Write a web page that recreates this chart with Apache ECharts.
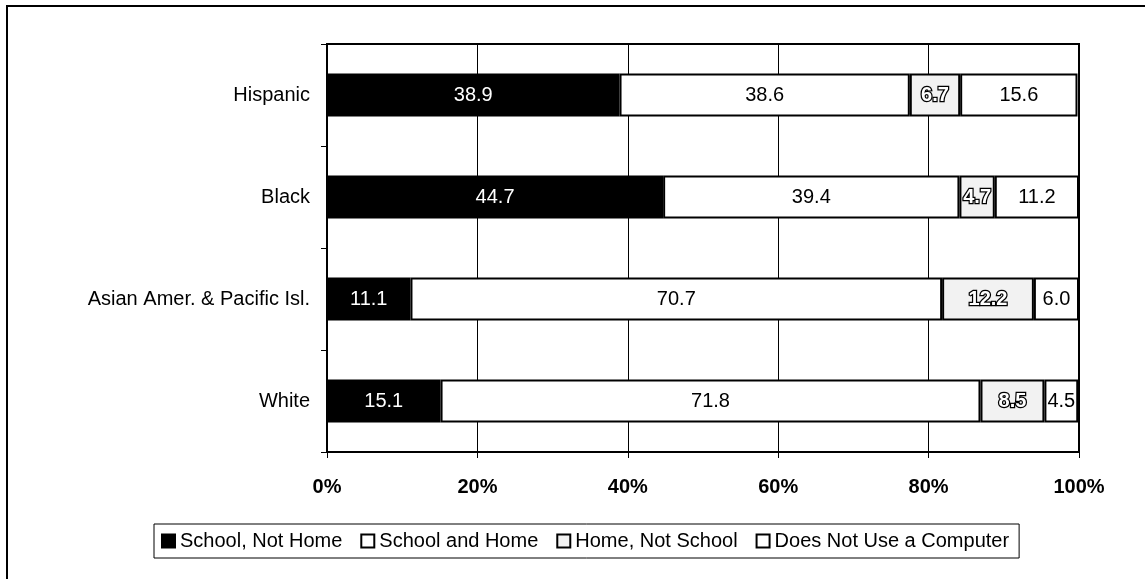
<!DOCTYPE html>
<html>
<head>
<meta charset="utf-8">
<script src="https://cdn.jsdelivr.net/npm/echarts@6/dist/echarts.min.js"></script>
<style>
html,body{margin:0;padding:0;background:#fff;}
#chart{width:1145px;height:579px;}
</style>
</head>
<body>
<div id="chart"></div>
<script>
var categories = ['Hispanic', 'Black', 'Asian Amer. & Pacific Isl.', 'White'];
var seriesNames = ['School, Not Home', 'School and Home', 'Home, Not School', 'Does Not Use a Computer'];
var schoolNotHome = [38.9, 44.7, 11.1, 15.1];
var schoolAndHome = [38.6, 39.4, 70.7, 71.8];
var homeNotSchool = [6.7, 4.7, 12.2, 8.5];
var doesNotUse = [15.6, 11.2, 6.0, 4.5];
var xTicks = [0, 20, 40, 60, 80, 100];

var FONT = 'Arial, "Liberation Sans", sans-serif';
var seriesData = [schoolNotHome, schoolAndHome, homeNotSchool, doesNotUse];
var fills = ['#000000', '#ffffff', '#f2f2f2', '#ffffff'];

function labelFor(i) {
  var base = {show: true, position: 'inside', fontFamily: FONT, fontSize: 20,
    formatter: function (p) { return p.value.toFixed(1); }};
  if (i === 0) { base.color = '#ffffff'; }
  else if (i === 2) { base.color = '#ffffff'; base.fontWeight = 'bold'; base.textBorderColor = '#000000'; base.textBorderWidth = 2.5; }
  else { base.color = '#000000'; }
  return base;
}

var series = seriesData.map(function (d, i) {
  return {
    name: seriesNames[i], type: 'bar', stack: 'total', data: d,
    barCategoryGap: '58%',
    itemStyle: {color: fills[i], borderColor: '#000', borderWidth: 2},
    label: labelFor(i),
    emphasis: {disabled: true}
  };
});

var chart = echarts.init(document.getElementById('chart'), null, {renderer: 'canvas'});
chart.setOption({
  animation: false,
  backgroundColor: '#ffffff',
  grid: {left: 327, right: 66, top: 44, bottom: 127, show: true, borderColor: '#000', borderWidth: 2, backgroundColor: 'transparent'},
  legend: {
    left: 154, top: 524,
    data: seriesNames,
    icon: 'rect', itemWidth: 13, itemHeight: 13, itemGap: 18,
    borderColor: '#000', borderWidth: 1, padding: [7, 10, 7, 7],
    textStyle: {fontFamily: FONT, fontSize: 20, color: '#000', padding: [0, 0, 0, 0]},
    itemStyle: {borderColor: '#000', borderWidth: 2},
    selectedMode: false
  },
  xAxis: {
    type: 'value', min: xTicks[0], max: xTicks[xTicks.length - 1], interval: 20,
    axisLine: {show: true, lineStyle: {color: '#000', width: 2}},
    axisTick: {show: true, length: 6, lineStyle: {color: '#000', width: 1}},
    axisLabel: {formatter: '{value}%', fontFamily: FONT, fontSize: 20, fontWeight: 'bold', color: '#000', margin: 25},
    splitLine: {show: true, lineStyle: {color: '#000', width: 1}}
  },
  yAxis: {
    type: 'category', data: categories, inverse: true,
    axisLine: {show: true, lineStyle: {color: '#000', width: 2}},
    axisTick: {show: true, length: 6, lineStyle: {color: '#000', width: 1}},
    axisLabel: {fontFamily: FONT, fontSize: 20, color: '#000', margin: 17},
    splitLine: {show: false}
  },
  graphic: [{
    type: 'polyline', silent: true,
    shape: {points: [[7, 579], [7, 6], [1145, 6]]},
    style: {stroke: '#000', lineWidth: 2, fill: null}
  }],
  series: series
});
</script>
</body>
</html>
